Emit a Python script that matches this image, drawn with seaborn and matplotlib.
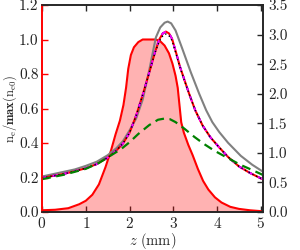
import matplotlib
matplotlib.use('Agg')
import matplotlib.pyplot as plt
import seaborn as sns

# density profile (left axis)
z_dens = [0, 0.3, 0.6, 0.85, 1.0, 1.15, 1.3, 1.45, 1.58, 1.68, 1.78, 1.86, 1.92, 1.97,
          2.03, 2.1, 2.2, 2.3, 2.6, 2.7, 2.8, 2.9, 2.98, 3.05, 3.1, 3.14, 3.18, 3.24,
          3.34, 3.44, 3.56, 3.68, 3.8, 3.95, 4.1, 4.3, 4.5, 4.75, 5.0]
dens = [0.01, 0.013, 0.022, 0.045, 0.065, 0.1, 0.16, 0.26, 0.36, 0.45, 0.53, 0.62, 0.72,
        0.83, 0.91, 0.955, 0.985, 1.0, 1.0, 0.99, 0.965, 0.92, 0.86, 0.79, 0.72, 0.62,
        0.52, 0.46, 0.39, 0.33, 0.25, 0.18, 0.13, 0.085, 0.055, 0.03, 0.018, 0.01, 0.005]

# main on-axis curve (right axis), drawn by several overlapping runs
z_main = [0, 0.25, 0.5, 0.75, 1.0, 1.25, 1.5, 1.7, 1.85, 2.0, 2.15, 2.3, 2.45, 2.58,
          2.68, 2.76, 2.83, 2.9, 2.97, 3.06, 3.15, 3.25, 3.36, 3.5, 3.67, 3.85, 4.05,
          4.25, 4.5, 4.75, 5.05]
main = [0.575, 0.61, 0.645, 0.69, 0.74, 0.81, 0.92, 1.04, 1.16, 1.34, 1.63, 1.98, 2.36,
        2.70, 2.92, 3.02, 3.05, 3.02, 2.93, 2.70, 2.46, 2.24, 2.0, 1.72, 1.46, 1.26, 1.09,
        0.93, 0.77, 0.66, 0.55]
main_black = [0.575, 0.61, 0.645, 0.69, 0.74, 0.81, 0.92, 1.04, 1.16, 1.34, 1.63, 1.98, 2.36,
              2.69, 2.89, 2.98, 3.01, 2.98, 2.9, 2.68, 2.45, 2.23, 2.0, 1.72, 1.46, 1.26, 1.09,
              0.93, 0.77, 0.66, 0.55]

z_gray = [0, 0.25, 0.5, 0.75, 1.0, 1.25, 1.5, 1.7, 1.85, 2.0, 2.15, 2.3, 2.45, 2.6,
          2.7, 2.8, 2.87, 2.95, 3.05, 3.2, 3.4, 3.59, 3.75, 3.89, 4.05, 4.25, 4.54,
          4.8, 5.05]
gray = [0.6, 0.64, 0.68, 0.72, 0.78, 0.85, 0.96, 1.08, 1.2, 1.38, 1.58, 1.9, 2.4, 2.95,
        3.12, 3.2, 3.22, 3.19, 3.07, 2.77, 2.36, 2.0, 1.72, 1.52, 1.35, 1.17, 0.95,
        0.8, 0.68]

z_green = [0, 0.5, 1.0, 1.3, 1.58, 1.8, 2.0, 2.2, 2.45, 2.65, 2.8, 2.92, 3.05, 3.25,
           3.48, 3.7, 3.93, 4.2, 4.54, 4.8, 5.05]
green = [0.555, 0.63, 0.73, 0.83, 0.96, 1.06, 1.18, 1.32, 1.47, 1.56, 1.58, 1.57, 1.52,
         1.41, 1.27, 1.15, 1.04, 0.93, 0.795, 0.71, 0.625]

sns.set_style('ticks')
plt.rcParams['font.family'] = 'serif'
plt.rcParams['font.serif'] = ['cmr10', 'DejaVu Serif']
plt.rcParams['mathtext.fontset'] = 'cm'
plt.rcParams['axes.formatter.use_mathtext'] = True
plt.rcParams['font.size'] = 11

fig = plt.figure(figsize=(3, 2.5), dpi=100)
ax = fig.add_axes([0.14, 0.152, 0.737, 0.828])
ax2 = ax.twinx()

ax.fill_between(z_dens, dens, color='red', alpha=0.3, lw=0)
sns.lineplot(x=z_dens, y=dens, ax=ax, color='red', lw=1.5)

sns.lineplot(x=z_gray, y=gray, ax=ax2, color='gray', lw=1.5)
sns.lineplot(x=z_main, y=main, ax=ax2, color='red', lw=1.5)
sns.lineplot(x=z_main, y=main, ax=ax2, color='blue', lw=1.3, dashes=(2, 4))
sns.lineplot(x=z_main, y=main, ax=ax2, color='magenta', lw=1.3, dashes=(3, 3))
sns.lineplot(x=z_main, y=main_black, ax=ax2, color='black', lw=1.0, dashes=(1, 2))
sns.lineplot(x=z_green, y=green, ax=ax2, color='green', lw=1.6, dashes=(4, 2.5))

ax.set_xlim(0, 5.05)
ax.set_ylim(0, 1.2)
ax2.set_ylim(0, 3.5)
ax.set_xticks([0, 1, 2, 3, 4, 5])
ax.set_yticks([0, 0.2, 0.4, 0.6, 0.8, 1.0, 1.2])
ax.set_yticklabels(['0.0', '0.2', '0.4', '0.6', '0.8', '1.0', '1.2'])
ax2.set_yticks([0, 0.5, 1.0, 1.5, 2.0, 2.5, 3.0, 3.5])
ax2.set_yticklabels(['0.0', '0.5', '1.0', '1.5', '2.0', '2.5', '3.0', '3.5'])

ax.set_xlabel(r'$z\ (\mathrm{mm})$', fontsize=10.5, labelpad=0)
ax.set_ylabel(r'$\mathrm{n_e}/\mathbf{max}(\mathrm{n_{e0}})$', fontsize=9, labelpad=0)

ax.tick_params(axis='x', direction='in', top=True, length=4, width=1, labelsize=11, pad=3)
ax.tick_params(axis='y', direction='in', colors='red', labelcolor='#222222',
               length=4, width=1, labelsize=11, pad=2.5)
ax2.tick_params(axis='y', direction='in', length=4, width=1, labelsize=11)

for a in (ax, ax2):
    for s in a.spines.values():
        s.set_linewidth(1.2)
        s.set_visible(True)
ax2.spines['left'].set_color('red')
ax.spines['left'].set_color('red')

fig.savefig('out.png', dpi=100)
